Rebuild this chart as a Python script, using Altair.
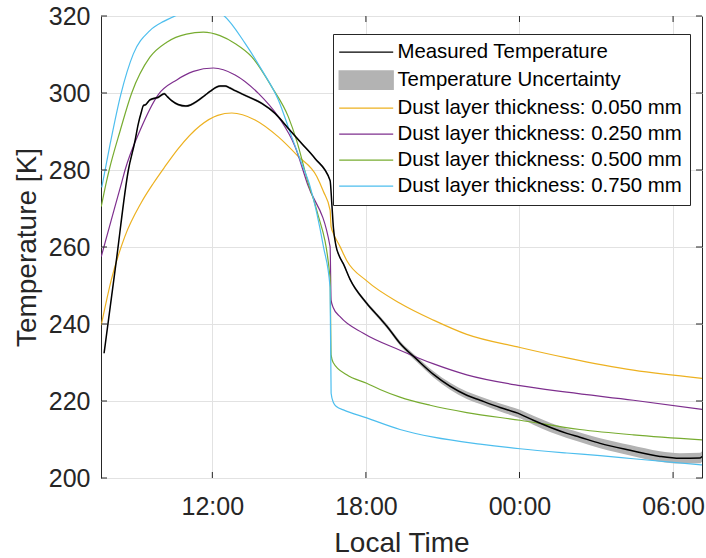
import altair as alt
import pandas as pd

# ---------------- data (time in hours of local time; 24 = 00:00, 30 = 06:00) -------------
meas_t = [7.77, 8.24, 8.72, 8.98, 9.10, 9.24, 9.30, 9.40, 9.56, 9.89, 10.12, 10.25, 10.41,
          10.66, 10.97, 11.15, 11.39, 11.71, 11.91, 12.30, 12.50, 12.69, 12.89, 13.41, 13.93,
          14.45, 14.97, 15.49, 16.01, 16.60, 16.67, 16.73, 16.83, 16.95, 17.12, 17.38, 18.03,
          18.55, 18.81, 19.33, 19.99, 20.64, 21.94, 22.46, 23.24, 24.02, 24.54, 25.85, 26.36,
          27.15, 28.32, 29.49, 30.27, 31.05, 31.13]
meas_T = [232.4, 256.0, 280.0, 287.6, 291.8, 295.4, 296.7, 297.0, 298.2, 298.9, 299.8, 299.0,
          298.0, 297.0, 296.6, 296.9, 297.8, 299.4, 300.4, 301.8, 301.8, 301.3, 300.6, 299.0,
          297.3, 294.7, 290.8, 286.9, 283.0, 277.3, 271.0, 265.0, 260.3, 257.8, 255.6, 251.6,
          245.4, 241.5, 239.5, 235.0, 230.8, 226.9, 221.5, 220.2, 218.3, 216.6, 215.0, 211.6,
          210.6, 209.0, 207.2, 205.6, 205.1, 205.2, 205.6]
meas_unc = [0.3, 0.3, 0.3, 0.3, 0.3, 0.3, 0.3, 0.3, 0.3, 0.3, 0.3, 0.3, 0.3,
            0.3, 0.3, 0.3, 0.3, 0.3, 0.3, 0.3, 0.3, 0.3, 0.3, 0.3, 0.3,
            0.3, 0.3, 0.3, 0.3, 0.3, 0.35, 0.35, 0.35, 0.35, 0.35, 0.35, 0.45,
            0.5, 0.55, 0.6, 0.7, 0.8, 0.95, 1.0, 1.05, 1.1, 1.15, 1.2, 1.25,
            1.3, 1.35, 1.35, 1.35, 1.35, 1.35]

d050_t = [7.66, 8.05, 8.58, 9.22, 9.69, 10.14, 10.66, 11.52, 12.21, 12.76, 13.67, 14.58, 15.36,
          16.08, 16.34, 16.60, 16.64, 16.73, 16.99, 17.25, 18.03, 19.33, 20.64, 21.94, 24.02,
          25.85, 28.45, 31.13]
d050_T = [239.7, 251.4, 262.7, 271.5, 276.5, 280.8, 285.5, 291.5, 294.2, 294.8, 293.0, 288.6,
          283.5, 278.3, 274.4, 269.6, 265.3, 263.5, 260.1, 256.5, 251.2, 245.4, 241.0, 237.3,
          233.9, 231.2, 228.0, 225.9]

d250_t = [7.66, 8.05, 8.46, 8.59, 9.17, 9.89, 10.61, 11.26, 12.04, 12.89, 13.80, 14.58, 15.23,
          15.72, 16.60, 16.64, 16.72, 16.99, 17.90, 19.33, 20.62, 21.94, 24.02, 25.85, 28.45,
          31.13]
d250_T = [257.5, 267.0, 276.8, 280.0, 290.2, 299.6, 303.4, 305.6, 306.5, 304.7, 299.9, 293.8,
          286.1, 276.3, 260.1, 246.2, 244.3, 241.9, 237.6, 233.2, 229.7, 226.8, 224.0, 222.3,
          220.2, 217.8]

d500_t = [7.66, 7.87, 7.97, 8.39, 8.85, 9.56, 10.22, 10.99, 11.65, 12.30, 12.90, 13.54, 14.32,
          14.97, 15.30, 15.75, 16.08, 16.60, 16.64, 16.72, 17.25, 18.03, 18.55, 19.33, 20.51,
          21.94, 24.02, 26.36, 28.45, 31.13]
d500_T = [270.5, 277.2, 280.0, 290.0, 300.0, 309.3, 313.2, 315.3, 315.8, 314.9, 312.8, 309.4,
          301.6, 293.8, 287.5, 276.5, 269.5, 252.0, 232.0, 230.0, 226.8, 224.6, 223.0, 221.0,
          218.9, 217.0, 215.0, 212.6, 211.2, 209.9]

d750_t = [7.68, 8.00, 8.42, 8.91, 9.56, 10.10, 10.61, 11.52, 12.43, 13.28, 13.93, 14.58, 15.10,
          15.49, 15.82, 16.34, 16.60, 16.64, 16.73, 16.86, 17.12, 18.03, 19.33, 20.64, 22.46,
          24.02, 25.85, 27.15, 28.45, 31.13]
d750_T = [275.5, 286.5, 299.5, 310.1, 316.2, 318.6, 320.2, 322.5, 320.2, 312.9, 306.0, 298.2,
          288.6, 281.7, 275.7, 260.1, 249.5, 222.0, 219.6, 218.5, 217.7, 215.6, 212.6, 210.6,
          208.8, 207.6, 206.5, 205.8, 205.0, 203.4]

series_names = ["Measured Temperature", "Temperature Uncertainty",
                "Dust layer thickness: 0.050 mm", "Dust layer thickness: 0.250 mm",
                "Dust layer thickness: 0.500 mm", "Dust layer thickness: 0.750 mm"]
series_colors = ["#000000", "#b3b3b3", "#EDB120", "#7E2F8E", "#77AC30", "#4DBEEE"]

x_ticks = [12, 18, 24, 30]
y_ticks = [200, 220, 240, 260, 280, 300, 320]

# ---------------- tables ----------------
def table(name, ts, vs):
    return pd.DataFrame({"series": name, "t": ts, "T": vs, "i": list(range(len(ts)))})

dust_df = pd.concat([
    table(series_names[2], d050_t, d050_T),
    table(series_names[3], d250_t, d250_T),
    table(series_names[4], d500_t, d500_T),
    table(series_names[5], d750_t, d750_T),
], ignore_index=True)
meas_df = table(series_names[0], meas_t, meas_T)
area_df = pd.DataFrame({
    "series": series_names[1],
    "t": meas_t,
    "lo": [v - u for v, u in zip(meas_T, meas_unc)],
    "hi": [v + u for v, u in zip(meas_T, meas_unc)],
})
xt_df = pd.DataFrame({"t": x_ticks})
yt_df = pd.DataFrame({"T": y_ticks})

# ---------------- styling ----------------
W, H = 601, 462
FONT = "Liberation Sans"
DARK = "#262626"
GRID = "#e2e2e2"

xscale = alt.Scale(domain=[7.65, 31.13], nice=False, zero=False)
yscale = alt.Scale(domain=[200, 320], nice=False, zero=False)
cscale = alt.Scale(domain=series_names, range=series_colors)

xaxis = alt.Axis(values=x_ticks,
                 labelExpr="((datum.value % 24) < 10 ? '0' : '') + (datum.value % 24) + ':00'",
                 grid=True, gridColor=GRID, gridWidth=1, domain=False, ticks=False, tickSize=0,
                 labelFlush=False, labelPadding=16, labelFont=FONT, labelFontSize=25,
                 labelColor=DARK, titleFont=FONT, titleFontSize=28, titleFontWeight="normal",
                 titleColor=DARK, titlePadding=10)
yaxis = alt.Axis(values=y_ticks, grid=True, gridColor=GRID, gridWidth=1, domain=False,
                 ticks=False, tickSize=0, labelFlush=False, labelPadding=11, labelFont=FONT,
                 labelFontSize=25, labelColor=DARK, titleFont=FONT, titleFontSize=28,
                 titleFontWeight="normal", titleColor=DARK, titlePadding=7)

legend = alt.Legend(
    title=None, orient="none", legendX=232, legendY=18, direction="vertical",
    symbolType={"expr": "datum.value === 'Temperature Uncertainty' ? 'M-3,-1.03H3V1.03H-3Z' : 'M-3,0H3'"},
    symbolFillColor={"expr": "datum.value === 'Temperature Uncertainty' ? '#b3b3b3' : 'transparent'"},
    symbolSize=324, symbolStrokeWidth=1.3, symbolOffset=15, labelOffset=21,
    rowPadding=5, padding=8, labelFont=FONT, labelFontSize=20.4, labelColor="#000000",
    labelLimit=500, strokeColor=DARK, fillColor="white", cornerRadius=0,
)

x_enc = alt.X("t:Q", scale=xscale, axis=xaxis, title="Local Time")
y_enc = alt.Y("T:Q", scale=yscale, axis=yaxis, title="Temperature [K]")
color_enc = alt.Color("series:N", scale=cscale, legend=legend)

area = alt.Chart(area_df).mark_area(clip=True, interpolate="monotone").encode(
    x=x_enc,
    y=alt.Y("lo:Q", scale=yscale, axis=yaxis, title="Temperature [K]"),
    y2="hi:Q",
    color=color_enc,
)
dust = alt.Chart(dust_df).mark_line(clip=True, strokeWidth=1.2, interpolate="monotone").encode(
    x=x_enc, y=y_enc, color=color_enc, order="i:Q"
)
meas = alt.Chart(meas_df).mark_line(clip=True, strokeWidth=1.5, interpolate="monotone").encode(
    x=x_enc, y=y_enc, color=color_enc, order="i:Q"
)

tick_style = dict(color=DARK, strokeWidth=1)
xt_bottom = alt.Chart(xt_df).mark_rule(**tick_style).encode(
    x=alt.X("t:Q", scale=xscale), y=alt.value(H), y2=alt.value(H - 6))
xt_top = alt.Chart(xt_df).mark_rule(**tick_style).encode(
    x=alt.X("t:Q", scale=xscale), y=alt.value(0), y2=alt.value(6))
yt_left = alt.Chart(yt_df).mark_rule(**tick_style).encode(
    y=alt.Y("T:Q", scale=yscale), x=alt.value(0), x2=alt.value(6))
yt_right = alt.Chart(yt_df).mark_rule(**tick_style).encode(
    y=alt.Y("T:Q", scale=yscale), x=alt.value(W), x2=alt.value(W - 6))

chart = alt.layer(area, dust, meas, xt_bottom, xt_top, yt_left, yt_right).properties(
    width=W, height=H,
    autosize=alt.AutoSizeParams(type="none"),
    padding={"left": 101, "top": 16, "right": 4, "bottom": 80},
    background="white",
).configure_view(stroke=DARK, strokeWidth=1)

chart.save("out.html", embed_options={"renderer": "svg", "actions": False})
